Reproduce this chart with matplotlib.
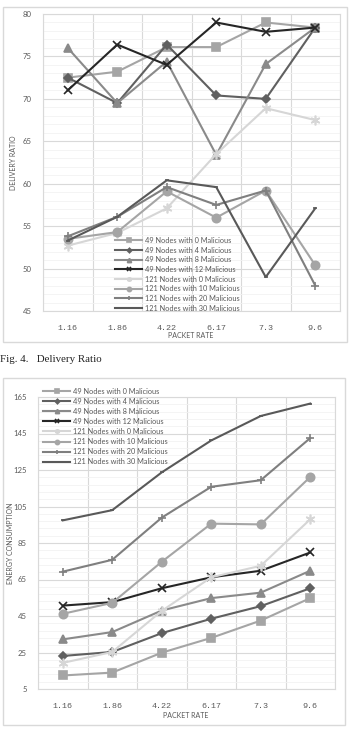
"""Delivery ratio and energy consumption vs packet rate (two Excel-style panels)."""
import matplotlib

matplotlib.use("Agg")
import matplotlib.pyplot as plt
from matplotlib.patches import Rectangle
from matplotlib.ticker import FixedLocator, MultipleLocator

packet_rates = ["1.16", "1.86", "4.22", "6.17", "7.3", "9.6"]
series_names = [
    "49 Nodes with 0 Malicious",
    "49 Nodes with 4 Malicious",
    "49 Nodes with 8 Malicious",
    "49 Nodes with 12 Malicious",
    "121 Nodes with 0 Malicious",
    "121 Nodes with 10 Malicious",
    "121 Nodes with 20 Malicious",
    "121 Nodes with 30 Malicious",
]

# Delivery ratio, one list per series
dr_49_0 = [72.5, 73.2, 76.1, 76.1, 79.0, 78.4]
dr_49_4 = [72.5, 69.5, 76.4, 70.4, 70.0, 78.4]
dr_49_8 = [76.0, 69.5, 74.4, 63.4, 74.1, 78.4]
dr_49_12 = [71.0, 76.4, 74.0, 79.0, 77.9, 78.4]
dr_121_0 = [52.7, 54.2, 57.1, 63.5, 68.9, 67.5]
dr_121_10 = [53.5, 54.3, 59.1, 56.0, 59.2, 50.4]
dr_121_20 = [53.8, 56.1, 59.6, 57.5, 59.2, 48.0]
dr_121_30 = [53.3, 56.1, 60.4, 59.6, 49.0, 57.1]

# Energy consumption
ec_49_0 = [12.4, 14.0, 24.9, 33.0, 42.5, 54.8]
ec_49_4 = [23.1, 25.3, 35.6, 43.5, 50.4, 60.2]
ec_49_8 = [32.2, 36.2, 48.0, 54.8, 57.8, 69.8]
ec_49_12 = [50.7, 52.6, 60.2, 66.2, 69.8, 79.8]
ec_121_0 = [19.3, 25.3, 47.8, 66.2, 72.5, 98.0]
ec_121_10 = [46.2, 52.2, 74.7, 95.6, 95.2, 121.2]
ec_121_20 = [69.3, 75.8, 98.9, 115.8, 119.4, 142.5]
ec_121_30 = [97.4, 103.0, 123.7, 141.2, 154.6, 161.4]

# color, marker, marker size
STYLES = [
    ("#a5a5a5", "s", 6),
    ("#606060", "D", 4.5),
    ("#8a8a8a", "^", 6),
    ("#262626", "x", 6),
    ("#d6d6d6", (6, 2, 0), 7),
    ("#a5a5a5", "o", 6),
    ("#7f7f7f", "+", 6),
    ("#595959", "_", 3),
]

W, H = 349, 732
GRID = "#d9d9d9"
TEXT = "#595959"


def fx(px):
    return px / W


def fy(py):
    return 1 - py / H


def draw_panel(fig, rect, data, ylim, major, minor, ylabel, label_x,
               legend_xy, legend_step):
    left, top, right, bottom = rect
    ax = fig.add_axes([fx(left), fy(bottom), fx(right - left), (bottom - top) / H])
    x = list(range(len(packet_rates)))
    for name, values, (color, marker, ms) in zip(series_names, data, STYLES):
        ax.plot(
            x, values, color=color, lw=1.5, marker=marker, ms=ms,
            mec=color, mfc=color, mew=1.2, label=name, zorder=3,
        )
    ax.set_xlim(-0.5, len(packet_rates) - 0.5)
    ax.set_ylim(*ylim)
    ax.yaxis.set_major_locator(MultipleLocator(major, offset=ylim[0]))
    ax.yaxis.set_minor_locator(MultipleLocator(minor, offset=ylim[0]))
    ax.xaxis.set_major_locator(FixedLocator(x))
    ax.xaxis.set_minor_locator(FixedLocator([i - 0.5 for i in range(len(x) + 1)]))
    ax.set_xticklabels(packet_rates, family="Liberation Mono", fontsize=6, color=TEXT)
    ax.tick_params(axis="x", which="both", length=0, pad=10)
    ax.tick_params(axis="y", which="both", length=0, pad=8, labelsize=5.6,
                   labelcolor=TEXT)
    for lab in ax.get_yticklabels():
        lab.set_family("Lato")
    ax.grid(axis="y", which="major", color=GRID, lw=0.8)
    ax.grid(axis="y", which="minor", color="#f2f2f2", lw=0.6)
    ax.grid(axis="x", which="minor", color=GRID, lw=0.8)
    ax.set_axisbelow(True)
    for sp in ax.spines.values():
        sp.set_color(GRID)
        sp.set_linewidth(0.8)

    fig.text(fx(label_x), fy((top + bottom) / 2), ylabel, rotation=90, ha="center",
             va="center", fontsize=5, color=TEXT, family="Lato")

    leg = ax.legend(
        loc="upper left", bbox_to_anchor=(fx(legend_xy[0]), fy(legend_xy[1])),
        bbox_transform=fig.transFigure, frameon=False, fontsize=5.3,
        handlelength=3.7, handletextpad=0.35, labelspacing=legend_step,
        borderpad=0, borderaxespad=0, markerscale=0.5,
    )
    for t in leg.get_texts():
        t.set_color(TEXT)
        t.set_family("Lato")
    return ax


def main():
    fig = plt.figure(figsize=(W / 100, H / 100), dpi=100)

    # outer chart frames
    for (x0, y0, x1, y1) in [(3, 7, 347, 342), (3, 378, 345, 725)]:
        fig.patches.append(Rectangle(
            (fx(x0), fy(y1)), fx(x1 - x0), (y1 - y0) / H,
            transform=fig.transFigure, fill=False, ec=GRID, lw=1,
        ))

    draw_panel(
        fig, (43, 14, 340, 311),
        [dr_49_0, dr_49_4, dr_49_8, dr_49_12, dr_121_0, dr_121_10, dr_121_20, dr_121_30],
        (45, 80), 5, 1, "DELIVERY RATIO", 13.5, (115, 237), 0.36,
    )
    fig.text(fx(191), fy(335.5), "PACKET RATE", ha="center", va="center",
             fontsize=5, color=TEXT, family="Lato")
    fig.text(fx(0), fy(359), "Fig. 4.   Delivery Ratio", ha="left", va="center",
             fontsize=7.8, color="#222222", family="Liberation Serif")

    draw_panel(
        fig, (38, 397, 335, 689),
        [ec_49_0, ec_49_4, ec_49_8, ec_49_12, ec_121_0, ec_121_10, ec_121_20, ec_121_30],
        (5, 165), 20, 4, "ENERGY CONSUMPTION", 11, (43, 388), 0.41,
    )
    fig.text(fx(186), fy(715.5), "PACKET RATE", ha="center", va="center",
             fontsize=5, color=TEXT, family="Lato")

    fig.savefig("out.png", dpi=100)


if __name__ == "__main__":
    main()
